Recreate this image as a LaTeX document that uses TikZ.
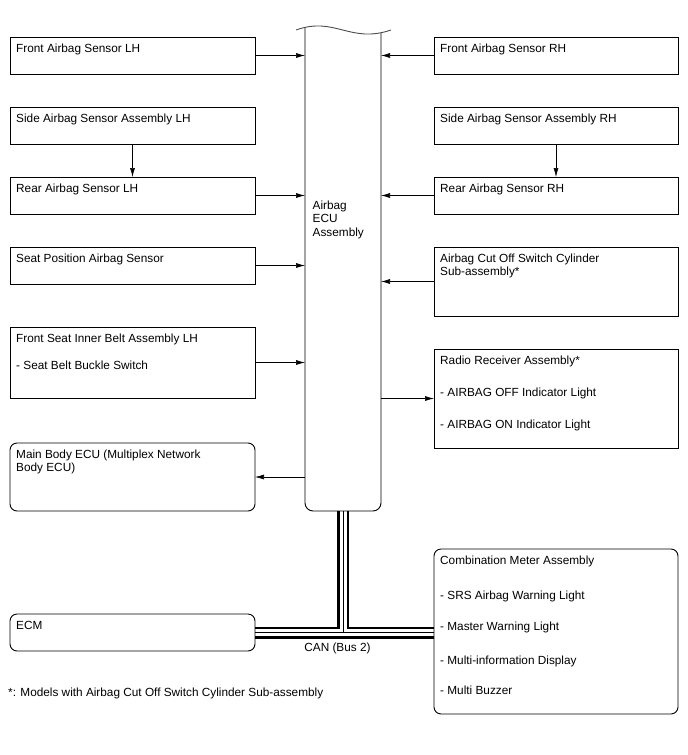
\documentclass[tikz,border=0pt]{standalone}
\usepackage{fontspec}
\setmainfont{Liberation Sans}
\usetikzlibrary{arrows.meta,backgrounds}
\begin{document}
\begin{tikzpicture}[x=1pt,y=-1pt,
  sq/.style={draw, line width=0.9pt, inner sep=0pt, outer sep=0pt, anchor=north west},
  rd/.style={sq, rounded corners=7pt},
  lbox/.style={minimum width=245pt},
  rbox/.style={minimum width=244pt},
  txt/.style={inner sep=0pt, anchor=base west, font=\fontsize{11.8}{14}\selectfont},
  arr/.style={line width=0.6pt, -{Latex[length=9pt,width=5pt]}},
]
\useasboundingbox (0,0) rectangle (688,755);

% ECU body
\node[inner sep=0pt, outer sep=0pt, minimum width=76pt, minimum height=484pt, anchor=north west] (ecu) at (305,27) {};
\draw[line width=0.9pt, rounded corners=8pt] (ecu.north west) -- (ecu.south west) -- (ecu.south east) -- ([yshift=-5.6pt]ecu.north east);
\draw[line width=0.9pt, black!70] (296,30) .. controls (335,16) and (350,44) .. (391,30);
\node[txt] (ecut1) at (312.5,209) {Airbag};
\node[txt] (ecut2) at (312.5,222.5) {ECU};
\node[txt] (ecut3) at (312.5,236) {Assembly};

% left boxes
\node[sq, lbox, minimum height=37pt] (flh) at (10,37) {};
\node[sq, lbox, minimum height=37pt] (slh) at (10,107) {};
\node[sq, lbox, minimum height=37pt] (rlh) at (10,177) {};
\node[sq, lbox, minimum height=37pt] (sps) at (10,247) {};
\node[sq, lbox, minimum height=71pt] (fsb) at (10,327) {};
\node[rd, lbox, minimum height=68pt] (mbe) at (10,443) {};
\node[rd, lbox, minimum height=37pt] (ecm) at (10,614) {};

\node[txt] (flht) at ([shift={(6,15)}]flh.north west) {Front Airbag Sensor LH};
\node[txt] (slht) at ([shift={(6,15)}]slh.north west) {Side Airbag Sensor Assembly LH};
\node[txt] (rlht) at ([shift={(6,15)}]rlh.north west) {Rear Airbag Sensor LH};
\node[txt] (spst) at ([shift={(6,15)}]sps.north west) {Seat Position Airbag Sensor};
\node[txt] (fsbt1) at ([shift={(6,15)}]fsb.north west) {Front Seat Inner Belt Assembly LH};
\node[txt] (fsbt2) at ([shift={(6,42)}]fsb.north west) {- Seat Belt Buckle Switch};
\node[txt] (mbet1) at ([shift={(6,15)}]mbe.north west) {Main Body ECU (Multiplex Network};
\node[txt] (mbet2) at ([shift={(6,28.5)}]mbe.north west) {Body ECU)};
\node[txt] (ecmt) at ([shift={(6,15)}]ecm.north west) {ECM};

% right boxes
\node[sq, rbox, minimum height=37pt] (frh) at (434,37) {};
\node[sq, rbox, minimum height=37pt] (srh) at (434,107) {};
\node[sq, rbox, minimum height=37pt] (rrh) at (434,177) {};
\node[sq, rbox, minimum height=69pt] (cut) at (434,247) {};
\node[sq, rbox, minimum height=99pt] (rad) at (434,349) {};
\node[rd, rbox, minimum height=165pt] (cmb) at (434,549) {};

\node[txt] (frht) at ([shift={(6,15)}]frh.north west) {Front Airbag Sensor RH};
\node[txt] (srht) at ([shift={(6,15)}]srh.north west) {Side Airbag Sensor Assembly RH};
\node[txt] (rrht) at ([shift={(6,15)}]rrh.north west) {Rear Airbag Sensor RH};
\node[txt] (cutt1) at ([shift={(6,15)}]cut.north west) {Airbag Cut Off Switch Cylinder};
\node[txt] (cutt2) at ([shift={(6,28.5)}]cut.north west) {Sub-assembly*};
\node[txt] (radt1) at ([shift={(6,15)}]rad.north west) {Radio Receiver Assembly*};
\node[txt] (radt2) at ([shift={(6,47)}]rad.north west) {- AIRBAG OFF Indicator Light};
\node[txt] (radt3) at ([shift={(6,79)}]rad.north west) {- AIRBAG ON Indicator Light};
\node[txt] (cmbt1) at ([shift={(6,15)}]cmb.north west) {Combination Meter Assembly};
\node[txt] (cmbt2) at ([shift={(6,50)}]cmb.north west) {- SRS Airbag Warning Light};
\node[txt] (cmbt3) at ([shift={(6,81)}]cmb.north west) {- Master Warning Light};
\node[txt] (cmbt4) at ([shift={(6,115)}]cmb.north west) {- Multi-information Display};
\node[txt] (cmbt5) at ([shift={(6,145)}]cmb.north west) {- Multi Buzzer};

% arrows
\draw[arr] (flh.east) -- (flh.east -| ecu.west);
\draw[arr] (slh.south) -- (rlh.north);
\draw[arr] (rlh.east) -- (rlh.east -| ecu.west);
\draw[arr] (sps.east) -- (sps.east -| ecu.west);
\draw[arr] (fsb.east) -- (fsb.east -| ecu.west);
\draw[arr] (mbe.east -| ecu.west) -- (mbe.east);
\draw[arr] (frh.west) -- (frh.west -| ecu.east);
\draw[arr] (srh.south) -- (rrh.north);
\draw[arr] (rrh.west) -- (rrh.west -| ecu.east);
\draw[arr] (cut.west) -- (cut.west -| ecu.east);
\draw[arr] (ecu.east |- rad.west) -- (rad.west);

% CAN bus
\begin{scope}[on background layer]
\foreach \w/\c in {12pt/black, 7pt/white, 0.7pt/black}
  \draw[line width=\w, \c] (ecu.south) -- (ecu.south |- ecm.east) (ecm.east) -- (ecm.east -| cmb.west);
\end{scope}
\node[inner sep=0pt, anchor=base, font=\fontsize{11.8}{14}\selectfont] (can) at (337.5,651) {CAN (Bus 2)};

\node[txt] (note) at (8,696.5) {*: Models with Airbag Cut Off Switch Cylinder Sub-assembly};
\end{tikzpicture}
\end{document}
